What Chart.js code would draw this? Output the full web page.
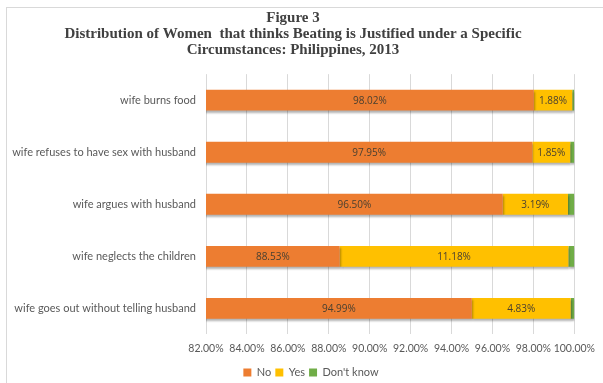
<!DOCTYPE html>
<html lang="en">
<head>
    <meta charset="UTF-8">
    <title>Figure 3</title>
    <script src="https://cdn.jsdelivr.net/npm/chart.js"></script>
    <style>
        html, body { margin: 0; padding: 0; background: #fff; }
        #wrap { position: relative; width: 603px; height: 383px; }
        #frame { position: absolute; left: 6px; top: 7px; right: 0; bottom: 0;
                 border-left: 1px solid #d9d9d9; border-top: 1px solid #d9d9d9; }
        canvas { position: absolute; left: 0; top: 0; }
    </style>
</head>
<body>
    <div id="wrap">
        <div id="frame"></div>
        <canvas id="barChart" width="603" height="383"></canvas>
    </div>

    <script>
        // Data
        const categories = [
            'wife burns food',
            'wife refuses to have sex with husband',
            'wife argues with husband',
            'wife neglects the children',
            'wife goes out without telling husband'
        ];
        const noValues = [98.02, 97.95, 96.50, 88.53, 94.99];
        const yesValues = [1.88, 1.85, 3.19, 11.18, 4.83];
        const dontKnowValues = [0.10, 0.20, 0.31, 0.29, 0.18];
        const xTicks = [82, 84, 86, 88, 90, 92, 94, 96, 98, 100];

        // Write the value in the middle of the visible part of each bar
        const barLabels = {
            id: 'barLabels',
            afterDatasetsDraw(chart) {
                const ctx = chart.ctx;
                const area = chart.chartArea;
                ctx.save();
                ctx.font = '10px "Open Sans", sans-serif';
                ctx.fillStyle = '#4a4030';
                ctx.textAlign = 'center';
                ctx.textBaseline = 'middle';
                [0, 1].forEach(i => {
                    const meta = chart.getDatasetMeta(i);
                    meta.data.forEach((bar, j) => {
                        const left = Math.max(bar.base, area.left);
                        const x = (left + bar.x) / 2;
                        const v = chart.data.datasets[i].data[j];
                        ctx.fillText(v.toFixed(2) + '%', x, bar.y + 1);
                    });
                });
                ctx.restore();
            }
        };

        // soft shadow under the bars
        const barShadow = {
            id: 'barShadow',
            beforeDatasetsDraw(chart) {
                const ctx = chart.ctx;
                ctx.save();
                ctx.shadowColor = 'rgba(0,0,0,0.3)';
                ctx.shadowOffsetY = 2;
                ctx.shadowOffsetX = 1;
                ctx.shadowBlur = 2;
            },
            afterDatasetsDraw(chart) {
                chart.ctx.restore();
            }
        };

        // legend in the original sits a little right of the page centre
        const legendShift = {
            id: 'legendShift',
            afterLayout(chart) {
                chart.legend.left += 18;
                chart.legend.right += 18;
            }
        };

        const ctx = document.getElementById('barChart').getContext('2d');
        new Chart(ctx, {
            type: 'bar',
            data: {
                labels: categories,
                datasets: [
                    { label: 'No', data: noValues, backgroundColor: '#ED7D31' },
                    { label: 'Yes', data: yesValues, backgroundColor: '#FFC000' },
                    { label: "Don't know", data: dontKnowValues, backgroundColor: '#70AD47' }
                ]
            },
            options: {
                indexAxis: 'y',
                responsive: false,
                animation: false,
                layout: { padding: { left: 10, right: 27, top: 10, bottom: -5 } },
                datasets: { bar: { categoryPercentage: 0.8, barPercentage: 0.5 } },
                scales: {
                    x: {
                        stacked: true,
                        min: 82,
                        max: 100,
                        afterBuildTicks: axis => { axis.ticks = xTicks.map(v => ({ value: v })); },
                        ticks: {
                            callback: v => v.toFixed(2) + '%',
                            color: '#595959',
                            font: { family: 'Lato, sans-serif', size: 10.5 },
                            padding: 8,
                            autoSkip: false,
                            maxRotation: 0
                        },
                        grid: { color: '#d9d9d9', drawTicks: false },
                        border: { display: false }
                    },
                    y: {
                        stacked: true,
                        afterFit: axis => { axis.width = 196; },
                        ticks: {
                            color: '#595959',
                            font: { family: 'Lato, sans-serif', size: 11 },
                            padding: 2
                        },
                        grid: { display: false },
                        border: { display: false }
                    }
                },
                plugins: {
                    title: {
                        display: true,
                        text: [
                            'Figure 3',
                            'Distribution of Women  that thinks Beating is Justified under a Specific',
                            'Circumstances: Philippines, 2013'
                        ],
                        color: '#404040',
                        font: { family: '"Liberation Serif", serif', size: 15, weight: 'bold', lineHeight: 1.07 },
                        padding: { top: 0, bottom: 16 }
                    },
                    legend: {
                        position: 'bottom',
                        labels: {
                            boxWidth: 8,
                            boxHeight: 8,
                            color: '#595959',
                            font: { family: 'Lato, sans-serif', size: 11 },
                            padding: 4
                        }
                    },
                    tooltip: { enabled: false }
                }
            },
            plugins: [barShadow, barLabels, legendShift]
        });
    </script>
</body>
</html>
